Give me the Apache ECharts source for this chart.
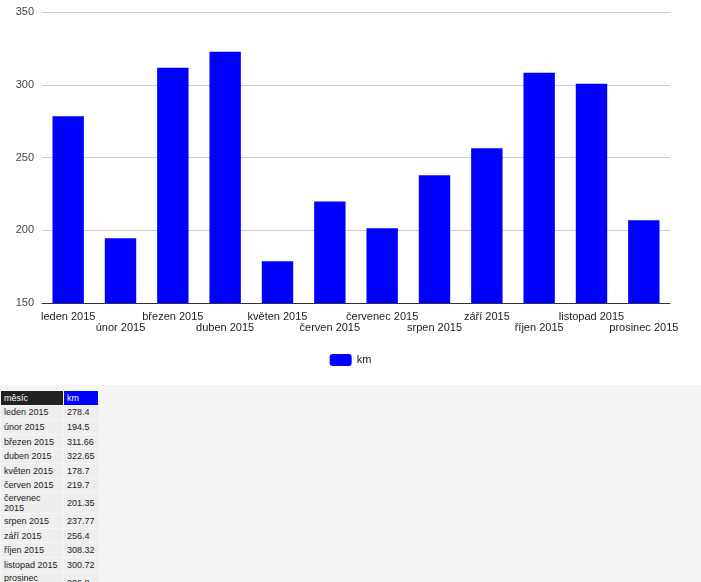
<!DOCTYPE html>
<html><head><meta charset="utf-8">
<script src="https://cdn.jsdelivr.net/npm/echarts@6/dist/echarts.min.js"></script>
<style>
body{margin:0;width:701px;height:582px;overflow:hidden;font-family:Arial,"Liberation Sans",sans-serif;background:#fff}
#c{width:701px;height:385px}
#t{background:#f5f5f5;height:197px;padding-top:5px;box-sizing:border-box}
table{border-collapse:separate;border-spacing:1px;font-size:9px;color:#222}
td,th{height:13.6px;padding:0 3px;text-align:left;font-weight:normal;background:#eee}
th{color:#fff}
</style></head><body>
<div id="c"></div><div id="t"></div>
<script>
const categories=["leden 2015","únor 2015","březen 2015","duben 2015","květen 2015","červen 2015","červenec 2015","srpen 2015","září 2015","říjen 2015","listopad 2015","prosinec 2015"];
const km=[278.4,194.5,311.66,322.65,178.7,219.7,201.35,237.77,256.4,308.32,300.72,206.8];
const yTicks=[150,200,250,300,350];
const chart=echarts.init(document.getElementById('c'));
chart.setOption({
 animation:false,
 grid:{left:42,right:31,top:12,bottom:82},
 legend:{bottom:14,itemWidth:22,itemHeight:12,textStyle:{fontSize:11,color:'#222'},data:['km']},
 xAxis:{type:'category',data:categories,axisTick:{show:false},axisLine:{lineStyle:{color:'#333'}},
  axisLabel:{interval:0,fontSize:11,color:'#222',margin:8,formatter:(v,i)=>i%2?'\n'+v:v}},
 yAxis:{type:'value',min:yTicks[0],max:yTicks[yTicks.length-1],interval:50,
  axisLabel:{fontSize:11,color:'#444'},splitLine:{lineStyle:{color:'#ccc'}}},
 series:[{name:'km',type:'bar',data:km,barWidth:'60%',itemStyle:{color:'#0000ff'}}]
});
let h='<table><tr><th style="background:#222;width:56px">měsíc</th><th style="background:#0000ff;width:28px">km</th></tr>';
categories.forEach((c,i)=>{h+='<tr><td>'+c+'</td><td>'+km[i]+'</td></tr>';});
document.getElementById('t').innerHTML=h+'</table>';
</script></body></html>
